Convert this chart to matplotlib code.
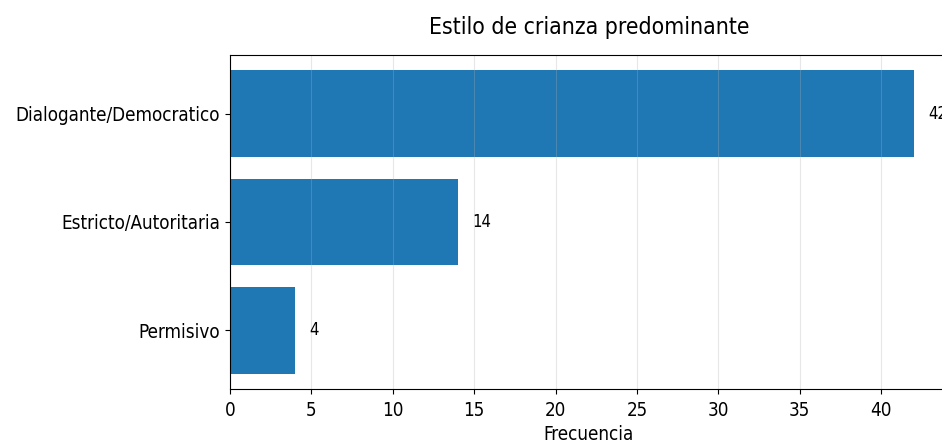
import matplotlib
matplotlib.use("Agg")
import matplotlib.pyplot as plt

categories = ["Dialogante/Democratico", "Estricto/Autoritaria", "Permisivo"]
values = [42, 14, 4]
title = "Estilo de crianza predominante"
xlabel = "Frecuencia"

plt.rcParams['font.family'] = ['DejaVu Sans']
plt.rcParams['font.stretch'] = 'condensed'

fig = plt.figure(figsize=(9.42, 4.46), dpi=100)
ax = fig.add_axes([230/942, 1-389/446, (947.8-230)/942, (389-55)/446])
ypos = list(range(len(categories)))
ax.barh(ypos, values, color="#1f77b4", height=0.8)
ax.set_yticks(ypos)
ax.set_yticklabels(categories, fontsize=13.5)
ax.invert_yaxis()
ax.set_xlim(0, max(values) * 1.05)
ax.tick_params(axis='x', labelsize=13.5, pad=5)
ax.grid(axis='x', alpha=0.3)
ax.set_title(title, fontsize=16.5, pad=15)
ax.set_xlabel(xlabel, fontsize=13.5, labelpad=4)
for i, v in enumerate(values):
    ax.text(v + 0.9, i, str(v), va='center', ha='left', fontsize=12)
fig.savefig("out.png", dpi=100)
